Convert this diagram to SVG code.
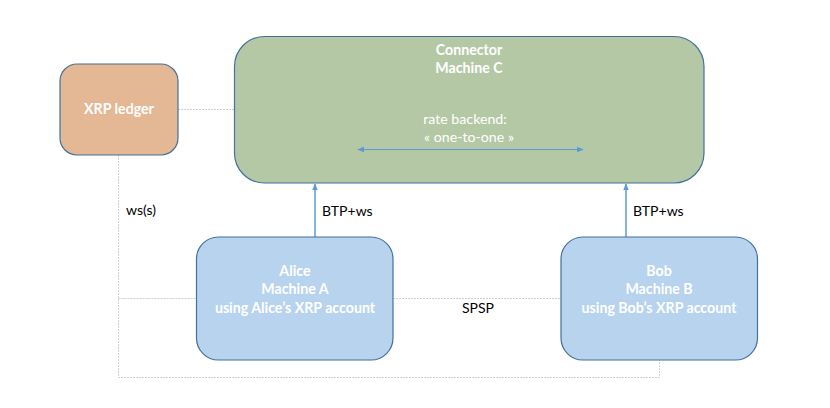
<svg xmlns="http://www.w3.org/2000/svg" width="830" height="408" viewBox="0 0 830 408">
<defs>
<marker id="ah" viewBox="0 0 10 10" refX="9" refY="5" markerWidth="7" markerHeight="7" orient="auto-start-reverse" markerUnits="userSpaceOnUse">
<path d="M0,1 L10,5 L0,9 z" fill="#5B9BD5"/>
</marker>
<style>
.box{stroke:#41719C;stroke-width:1.2}
.w{fill:#fff;font-family:Lato,"Liberation Sans",sans-serif;font-weight:bold;font-size:14.2px;text-anchor:middle}
.wn{fill:#fff;font-family:Lato,"Liberation Sans",sans-serif;font-size:14.2px;text-anchor:middle}
.lbl{fill:#000;font-family:Lato,"Liberation Sans",sans-serif;font-size:14px}
.dot{fill:none;stroke:#CFCFCF;stroke-width:1;stroke-dasharray:2 1}
.arr{fill:none;stroke:#5B9BD5;stroke-width:1.5}
</style>
</defs>
<rect width="830" height="408" fill="#fff"/>
<g id="connectors">
<path class="dot" d="M178,109.5 H234"/>
<path class="dot" d="M118.5,155 V377.5 H659.5 V360"/>
<path class="dot" d="M118.5,298.5 H196"/>
<path class="dot" d="M393,298.5 H561"/>
<path class="arr" d="M315,237 V184" marker-end="url(#ah)"/>
<path class="arr" d="M626,237 V184" marker-end="url(#ah)"/>
<text class="lbl" x="322" y="216">BTP+ws</text>
<text class="lbl" x="633" y="216">BTP+ws</text>
<text class="lbl" x="126" y="215">ws(s)</text>
<text class="lbl" x="462" y="313">SPSP</text>
</g>
<g id="xrp-ledger">
<rect class="box" x="60" y="64" width="118" height="91" rx="17" fill="#E4B795"/>
<text class="w" x="119" y="114">XRP ledger</text>
</g>
<g id="connector">
<rect class="box" x="234.5" y="36.5" width="469.5" height="146.5" rx="30" fill="#B5C8A6"/>
<text class="w" x="469" y="55">Connector</text>
<text class="w" x="469" y="73">Machine C</text>
<text class="wn" x="465" y="124">rate backend:</text>
<text class="wn" x="469" y="142">« one-to-one »</text>
<path class="arr" d="M358,149.5 H583" marker-start="url(#ah)" marker-end="url(#ah)" style="stroke-width:1.2"/>
</g>
<g id="alice">
<rect class="box" x="196.5" y="237" width="196.5" height="123" rx="22" fill="#B7D3EE"/>
<text class="w" x="295" y="276">Alice</text>
<text class="w" x="295" y="294">Machine A</text>
<text class="w" x="295" y="313">using Alice’s XRP account</text>
</g>
<g id="bob">
<rect class="box" x="561" y="237" width="196.5" height="123" rx="22" fill="#B7D3EE"/>
<text class="w" x="659" y="276">Bob</text>
<text class="w" x="659" y="294">Machine B</text>
<text class="w" x="659" y="313">using Bob’s XRP account</text>
</g>
</svg>
